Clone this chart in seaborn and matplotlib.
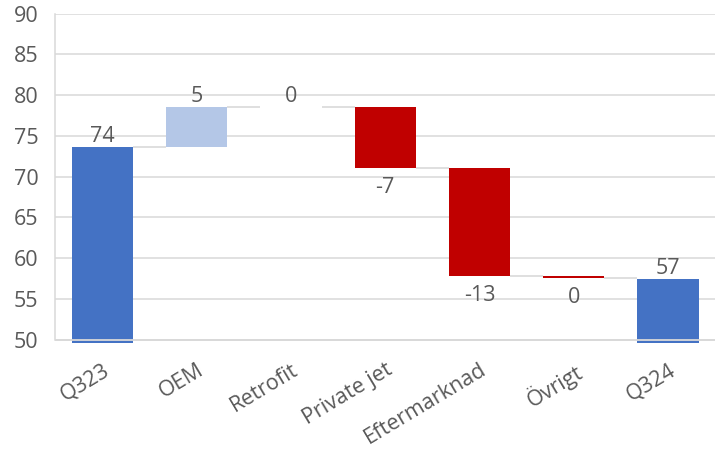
import matplotlib
matplotlib.use("Agg")
import matplotlib.pyplot as plt
import seaborn as sns
import pandas as pd
import numpy as np

# Waterfall: opening total, changes per segment, closing total
categories = ["Q323", "OEM", "Retrofit", "Private jet", "Eftermarknad", "Övrigt", "Q324"]
opening_total = 73.6
changes = [4.9, 0.0, -7.4, -13.3, -0.2]
closing_total = 57.4
y_ticks = [50, 55, 60, 65, 70, 75, 80, 85, 90]

sns.set_theme(style="white")
plt.rcParams["font.family"] = ["Open Sans", "DejaVu Sans"]

TEXT = "#595959"
GRID = "#D9D9D9"
COLORS = {"total": "#4472C4", "up": "#B4C7E7", "down": "#C00000"}
FS = 15.5

# Build bar bottoms/heights from the running level
values = [opening_total] + changes + [closing_total]
bottoms, heights, kinds = [0.0], [opening_total], ["total"]
level = opening_total
for c in changes:
    bottoms.append(min(level, level + c))
    heights.append(abs(c))
    kinds.append("up" if c >= 0 else "down")
    level += c
bottoms.append(0.0)
heights.append(closing_total)
kinds.append("total")

df = pd.DataFrame({"category": categories, "height": heights,
                   "bottom": bottoms, "kind": kinds})

fig, ax = plt.subplots(figsize=(7.16, 4.54), dpi=100)
fig.subplots_adjust(left=0.077, right=0.999, top=0.97, bottom=0.245)

sns.barplot(data=df, x="category", y="height", bottom=df["bottom"].to_numpy(),
            color=COLORS["total"], width=0.65, saturation=1, linewidth=0,
            ax=ax, zorder=2)
for patch, kind in zip(ax.patches, df["kind"]):
    patch.set_facecolor(COLORS[kind])

ax.set_ylim(49.6, 90)
ax.set_xlim(-0.5, 6.5)
ax.set_yticks(y_ticks)
ax.set_yticklabels([str(t) for t in y_ticks])
ax.yaxis.grid(True, color=GRID, linewidth=1.1, zorder=0)
ax.set_axisbelow(True)
ax.axhline(50, color=GRID, linewidth=1.3, zorder=3)

for s in ["top", "right", "bottom"]:
    ax.spines[s].set_visible(False)
ax.spines["left"].set_color(GRID)
ax.spines["left"].set_bounds(50, 90)
ax.spines["left"].set_linewidth(1.1)

ax.tick_params(axis="both", length=0, labelsize=FS, colors=TEXT)
ax.tick_params(axis="y", pad=12)
ax.tick_params(axis="x", pad=12)
ax.set_xlabel("")
ax.set_ylabel("")
for lbl in ax.get_xticklabels():
    lbl.set_rotation(31)
    lbl.set_ha("right")
    lbl.set_rotation_mode("anchor")

# Connector lines between consecutive bars
half = 0.65 / 2
tops = [b + h for b, h in zip(bottoms, heights)]
levels = [opening_total]
lv = opening_total
for c in changes:
    lv += c
    levels.append(lv)
for i in range(len(categories) - 1):
    ax.plot([i + half, i + 1 - half], [levels[i], levels[i]],
            color=GRID, linewidth=1.2, zorder=1, solid_capstyle="butt")

# Data labels: above for non-negative, below for negative
for i, v in enumerate(values):
    txt = f"{round(v):.0f}"
    if txt == "-0":
        txt = "0"
    if v >= 0:
        ax.annotate(txt, (i, tops[i]), xytext=(0, 0.5), textcoords="offset points",
                    ha="center", va="bottom", fontsize=FS, color=TEXT)
    else:
        ax.annotate(txt, (i, bottoms[i]), xytext=(0, -6.5), textcoords="offset points",
                    ha="center", va="top", fontsize=FS, color=TEXT)

fig.savefig("out.png", dpi=100)
